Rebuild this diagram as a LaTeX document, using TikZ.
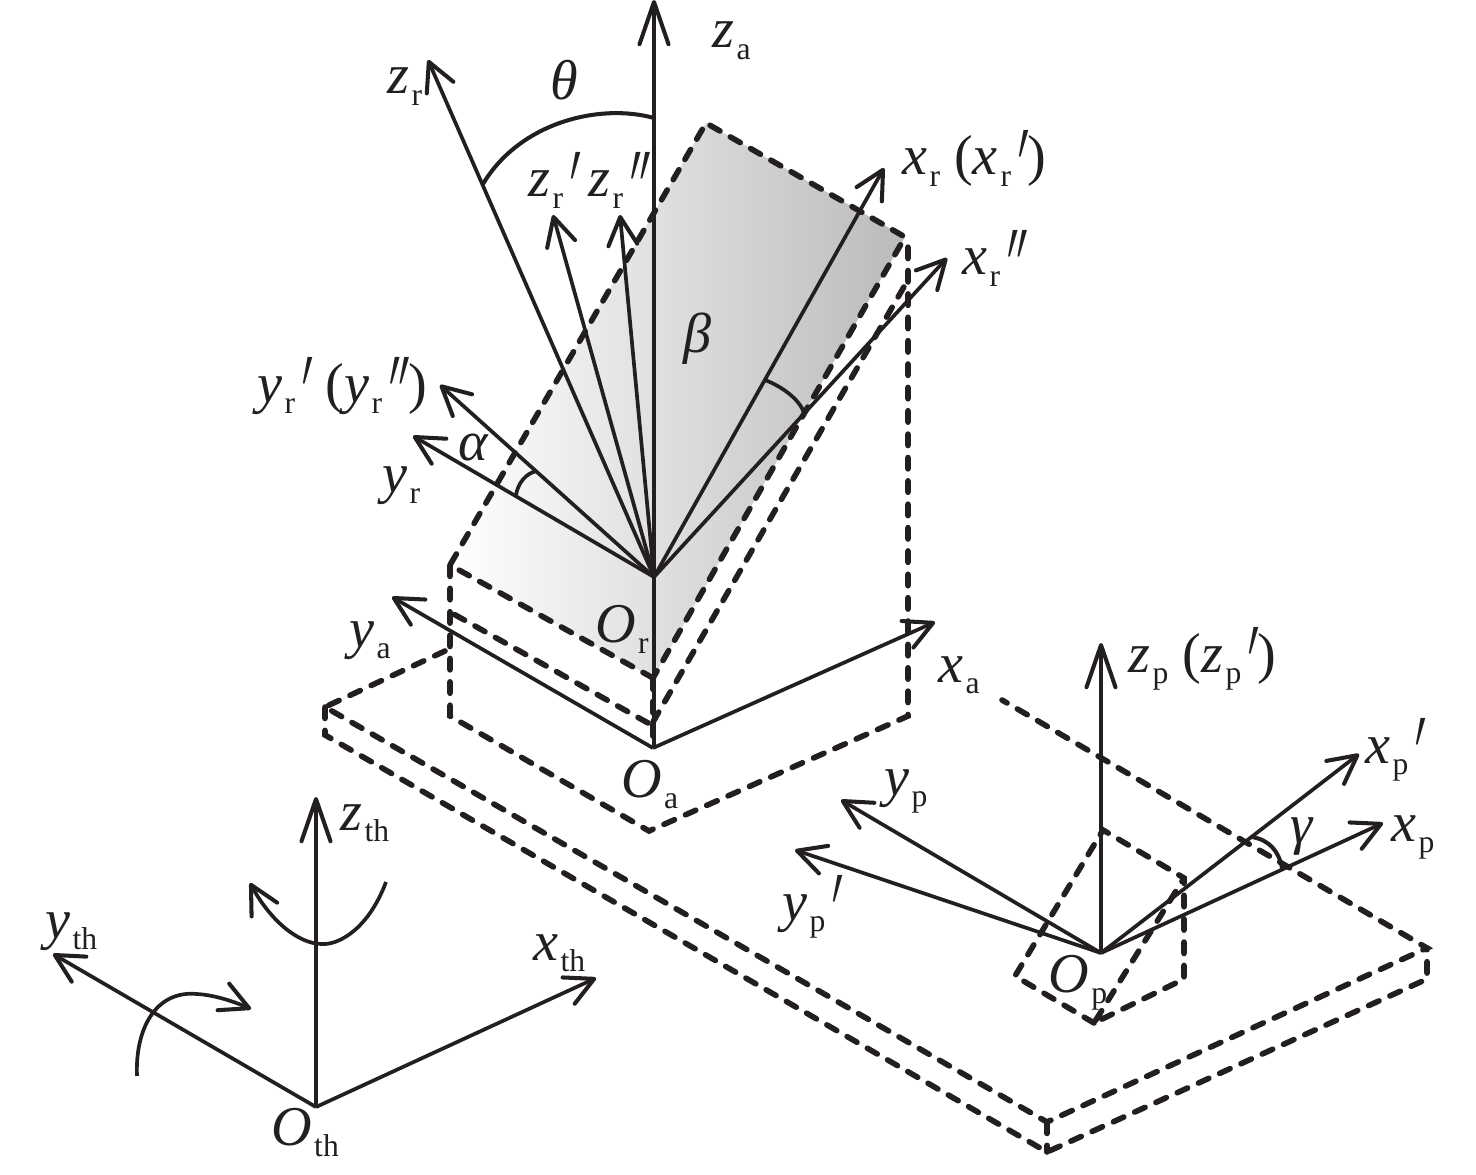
\documentclass[tikz,border=0pt]{standalone}
\usepackage{fontspec}
\usepackage{graphicx}
\setmainfont{Liberation Serif}
\newfontfamily\primefont[FakeSlant=0.3]{Liberation Serif}
\usetikzlibrary{arrows.meta}
\newcommand{\subtxt}[1]{\kern 1.5pt\raisebox{-6.5pt}{\fontsize{18}{18}\selectfont\upshape #1}}
\newcommand{\sym}[2]{{\itshape #1}\subtxt{#2}}
\newcommand{\pA}{\kern -0.5pt\smash{\raisebox{-17pt}{\scalebox{0.62}[1.4]{\fontsize{46}{46}\primefont ′}}}\kern 3.5pt}
\newcommand{\pB}{\kern -0.5pt\smash{\raisebox{-17pt}{\scalebox{0.62}[1.4]{\fontsize{46}{46}\primefont ″}}}\kern 3.5pt}
\tikzset{
  solidline/.style={line width=2.1pt,draw=ink},
  dashline/.style={line width=3.2pt,draw=ink,line cap=round,dash pattern=on 6.5pt off 6.8pt,line join=miter},
  axis/.style={solidline,-{Straight Barb[length=16pt,width=16.5pt,line width=2.3pt,round]}},
  upaxis/.style={solidline,-{Straight Barb[length=24pt,width=16.5pt,line width=2.3pt,round]}},
  lbl/.style={anchor=base west,inner sep=0pt,outer sep=0pt,text=ink,font=\fontsize{32}{32}\selectfont},
}
\definecolor{ink}{RGB}{35,31,32}
\begin{document}
\begin{tikzpicture}[x=0.02cm,y=-0.02cm]
\useasboundingbox (0,0) rectangle (1476,1175);
% plate corners
\coordinate (pL) at (450,565);
\coordinate (pT) at (706,123);
\coordinate (pR) at (905,237);
\coordinate (pB) at (653,678);
\coordinate (qL) at (450,612);
\coordinate (qB) at (648,723);
\coordinate (qB2) at (653,722);
\coordinate (qR) at (905,285);
\coordinate (sB) at (450,716);
\coordinate (sF) at (649,831);
\coordinate (sR) at (908,716);
\coordinate (sT) at (908,237);
% base
\coordinate (bH) at (445,651);
\coordinate (bL) at (325,707);
\coordinate (bL2) at (325,735);
\coordinate (bF) at (1047,1122);
\coordinate (bF2) at (1047,1152);
\coordinate (bR) at (1427,948);
\coordinate (bR2) at (1427,979);
\coordinate (bH2) at (1002,700);
% small plate
\coordinate (cL) at (1015,976);
\coordinate (cT) at (1103,830);
\coordinate (cR) at (1184,878);
\coordinate (cB) at (1094,1023);
\coordinate (cS) at (1184,979);
% origins and axis tips
\coordinate (Oth) at (316,1107);
\coordinate (zth) at (316,797);
\coordinate (yth) at (53,954);
\coordinate (xth) at (596,978);
\coordinate (Oa) at (653,748);
\coordinate (za0) at (654,748);
\coordinate (za) at (654,0);
\coordinate (ya) at (392,597);
\coordinate (xa) at (935,622);
\coordinate (Or) at (654,577);
\coordinate (zr) at (428,60);
\coordinate (zr1) at (553,215);
\coordinate (zr2) at (620,215);
\coordinate (xr) at (884,168);
\coordinate (xr2) at (947,258);
\coordinate (yr1) at (440,385);
\coordinate (yr) at (413,436);
\coordinate (Op) at (1101,953);
\coordinate (zp) at (1101,643);
\coordinate (yp) at (841,800);
\coordinate (yp1) at (795,850);
\coordinate (xp) at (1383,823);
\coordinate (xp1) at (1359,754);
% shaded plate
\shade[left color=white,right color=black!27] (pL) -- (pT) -- (pR) -- (pB) -- cycle;
% dashed edges
\draw[dashline] (pB) -- (pL) -- (pT) -- (pR) -- (pB);
\draw[dashline] (qB) -- (qL);
\draw[dashline] (qB2) -- (qR);
\draw[dashline] (pL) -- (sB) -- (sF) -- (sR) -- (sT);
\draw[dashline] (pB) -- (Oa);
\draw[dashline] (bH) -- (bL) -- (bF) -- (bR) -- (bH2);
\draw[dashline] (bL) -- (bL2) -- (bF2) -- (bR2) -- (bR);
\draw[dashline] (bF) -- (bF2);
\draw[dashline] (cB) -- (cL) -- (cT) -- (cR) -- (cS) -- (cB) -- (cR);
% axes
\draw[upaxis] (Oth) -- (zth);
\draw[axis] (Oth) -- (yth);
\draw[axis] (Oth) -- (xth);
\draw[upaxis] (za0) -- (za);
\draw[axis] (Oa) -- (ya);
\draw[axis] (Oa) -- (xa);
\draw[axis] (Or) -- (zr);
\draw[axis] (Or) -- (zr1);
\draw[axis] (Or) -- (zr2);
\draw[axis] (Or) -- (xr);
\draw[axis] (Or) -- (xr2);
\draw[axis] (Or) -- (yr1);
\draw[axis] (Or) -- (yr);
\draw[upaxis] (Op) -- (zp);
\draw[axis] (Op) -- (yp);
\draw[axis] (Op) -- (yp1);
\draw[axis] (Op) -- (xp);
\draw[axis] (Op) -- (xp1);
% angle arcs
\coordinate (thA) at (483,184);
\coordinate (thB) at (654,118);
\draw[solidline,line width=2.3pt] (thA) .. controls (520,122) and (600,103) .. (thB);
\coordinate (alA) at (516,495);
\coordinate (alB) at (537,471);
\draw[solidline] (alA) .. controls (518,483) and (526,473) .. (alB);
\coordinate (beA) at (765,380);
\coordinate (beB) at (804,413);
\draw[solidline] (beA) .. controls (783,387) and (800,400) .. (beB);
\coordinate (gaA) at (1252,837);
\coordinate (gaB) at (1282,868);
\draw[solidline,line width=2.3pt] (gaA) .. controls (1270,840) and (1279,852) .. (gaB);
% rotation arrows
\coordinate (r1A) at (386,882);
\coordinate (r1B) at (250,883);
\draw[axis] (r1A) .. controls (368,930) and (338,945) .. (322,944) .. controls (298,944) and (270,920) .. (r1B);
\coordinate (r2A) at (137,1076);
\coordinate (r2B) at (251,1009);
\draw[axis] (r2A) .. controls (135,1030) and (155,990) .. (197,994) .. controls (215,995) and (235,1002) .. (r2B);
% labels
\node[lbl] (tza) at (712,48) {\sym{z}{a}};
\node[lbl] (tzr) at (387,94) {\sym{z}{r}};
\node[lbl] (tth) at (550,100) {\itshape θ};
\node[lbl] (tzr1) at (528,197) {\sym{z}{r}\pA};
\node[lbl] (tzr2) at (588,197) {\sym{z}{r}\pB};
\node[lbl] (tbe) at (683,353) {\itshape β};
\node[lbl] (txr) at (902,175) {\sym{x}{r} (\sym{x}{r}\pA)};
\node[lbl] (txr2) at (962,275) {\sym{x}{r}\pB};
\node[lbl] (tyr1) at (257,402) {\sym{y}{r}\pA{} (\sym{y}{r}\pB)};
\node[lbl] (tal) at (458,460) {\itshape α};
\node[lbl] (tyr) at (382,492) {\sym{y}{r}};
\node[lbl] (tOr) at (595,642) {\sym{O}{r}};
\node[lbl] (tya) at (349,647) {\sym{y}{a}};
\node[lbl] (tOa) at (621,797) {\sym{O}{a}};
\node[lbl] (txa) at (938,682) {\sym{x}{a}};
\node[lbl] (tzp) at (1128,672) {\sym{z}{p} (\sym{z}{p}\pA)};
\node[lbl] (txp1) at (1365,763) {\sym{x}{p}\pA};
\node[lbl] (txp) at (1391,841) {\sym{x}{p}};
\node[lbl] (tga) at (1290,843) {\itshape γ};
\node[lbl] (typ) at (884,795) {\sym{y}{p}};
\node[lbl] (typ1) at (782,920) {\sym{y}{p}\pA};
\node[lbl] (tOp) at (1048,992) {\sym{O}{p}};
\node[lbl] (tOth) at (271,1145) {\sym{O}{th}};
\node[lbl] (tyth) at (45,938) {\sym{y}{th}};
\node[lbl] (txth) at (533,960) {\sym{x}{th}};
\node[lbl] (tzth) at (340,830) {\sym{z}{th}};
\end{tikzpicture}
\end{document}
